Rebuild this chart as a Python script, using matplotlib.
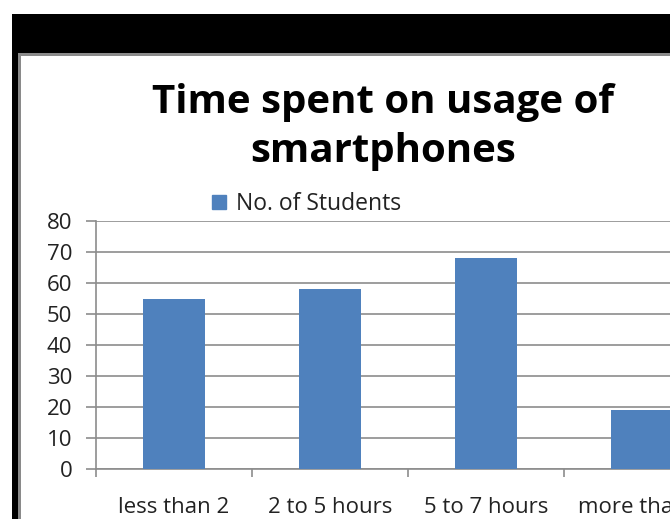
import matplotlib
matplotlib.use("Agg")
import matplotlib.pyplot as plt
from matplotlib.patches import Rectangle, Patch

categories = ["less than 2", "2 to 5 hours", "5 to 7 hours", "more than 7"]
students = [55, 58, 68, 19]
y_ticks = [0, 10, 20, 30, 40, 50, 60, 70, 80]
title_lines = ["Time spent on usage of", "smartphones"]
series_name = "No. of Students"

plt.rcParams['font.family'] = ['Open Sans', 'DejaVu Sans']

W, H = 670, 519
fig = plt.figure(figsize=(W / 100, H / 100), dpi=100)
fig.patch.set_facecolor("white")

def px_rect(x0, y0, x1, y1, color):
    # pixel coords from top-left
    fig.add_artist(Rectangle((x0 / W, 1 - y1 / H), (x1 - x0) / W, (y1 - y0) / H,
                             transform=fig.transFigure, facecolor=color,
                             edgecolor="none", zorder=0))

# screenshot frame
px_rect(12, 14, W, 53, "black")
px_rect(12, 14, 18, H, "black")
px_rect(18, 53, 21, H, "#8a8a8a")
px_rect(18, 53, W, 56, "#8a8a8a")

ax_left, ax_right, ax_top, ax_bottom = 96, 720, 221, 469
ax = fig.add_axes([ax_left / W, 1 - ax_bottom / H, (ax_right - ax_left) / W,
                   (ax_bottom - ax_top) / H])
ax.set_facecolor("none")

x = list(range(len(categories)))
ax.bar(x, students, width=0.4, color="#4F81BD", zorder=3, label=series_name)
ax.set_xlim(-0.5, len(categories) - 0.5)
ax.set_ylim(0, 80)
ax.set_yticks(y_ticks)
ax.yaxis.grid(True, color="#8c8c8c", linewidth=1.2, zorder=0)
ax.set_axisbelow(True)
for s in ["top", "right"]:
    ax.spines[s].set_visible(False)
for s in ["left", "bottom"]:
    ax.spines[s].set_color("#8c8c8c")
    ax.spines[s].set_linewidth(1.2)

ax.set_xticks(x)
ax.set_xticklabels(categories)
ax.set_xticks([i - 0.5 for i in range(len(categories) + 1)], minor=True)
ax.tick_params(axis="x", which="major", length=0, pad=20, labelsize=16,
               colors="#222222")
ax.tick_params(axis="x", which="minor", length=6, width=1.2, color="#8c8c8c")
ax.tick_params(axis="y", length=7, width=1.2, color="#8c8c8c", pad=10,
               labelsize=16, labelcolor="#222222")

fig.text(383 / W, 1 - 113 / H, title_lines[0], ha="center", va="baseline",
         fontsize=29, fontweight="bold", color="black")
fig.text(383 / W, 1 - 162 / H, title_lines[1], ha="center", va="baseline",
         fontsize=29, fontweight="bold", color="black")

ax.legend(handles=[Patch(color="#4F81BD", label=series_name)],
          loc="center left", bbox_to_anchor=(212 / W, 1 - 204 / H),
          bbox_transform=fig.transFigure, frameon=False, fontsize=16.5,
          handlelength=0.6, handleheight=0.6, handletextpad=0.45,
          borderpad=0, borderaxespad=0, labelcolor="#222222")

fig.savefig("out.png", dpi=100)
